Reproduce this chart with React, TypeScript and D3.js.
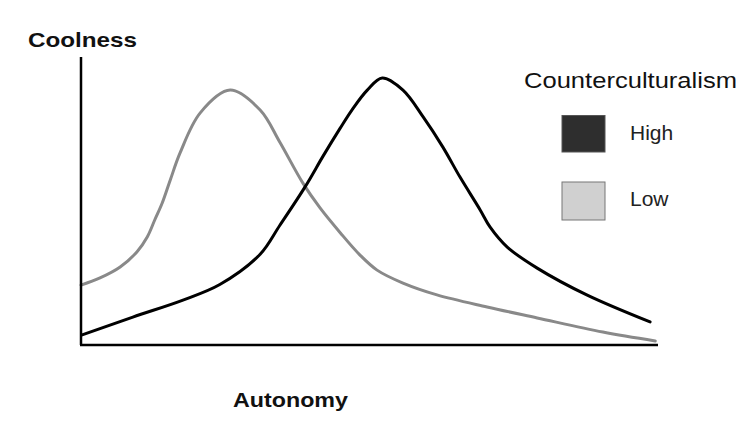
import React from "react";
import * as d3 from "d3";

const lowX = [0, 3.3, 6.8, 9.7, 11.5, 12.8, 14.1, 15.5, 17.2, 20.7, 25.9, 31.1, 34.5, 38.5, 41.5, 45.0, 48.4, 51.4, 55.9, 61.8, 70.5, 79.2, 90.6, 99.7];
const lowY = [20.8, 23.3, 27.1, 32.3, 37.5, 43.4, 49.3, 57.3, 66.7, 80.6, 88.5, 81.6, 70.5, 56.3, 47.6, 39.0, 31.3, 26.0, 21.5, 17.4, 13.2, 9.4, 4.5, 1.4];
const highX = [0.2, 9.0, 17.7, 24.1, 31.1, 34.5, 38.9, 42.0, 45.0, 47.0, 49.7, 52.3, 55.9, 59.4, 62.8, 65.8, 69.3, 71.0, 74.0, 79.2, 87.8, 98.8];
const highY = [3.5, 9.7, 15.6, 21.0, 31.5, 41.5, 54.9, 65.5, 75.3, 81.5, 88.5, 92.7, 88.5, 79.2, 68.8, 58.3, 46.9, 41.0, 34.0, 26.7, 17.4, 8.0];

const legendTitle = "Counterculturalism";
const legendLabels = ["High", "Low"];
const yLabel = "Coolness";
const xLabel = "Autonomy";

export default function App() {
  const W = 753, H = 434;
  const x = d3.scaleLinear().domain([0, 100]).range([81, 657]);
  const y = d3.scaleLinear().domain([0, 100]).range([345, 57]);
  const line = d3
    .line<[number, number]>()
    .x((d) => x(d[0]))
    .y((d) => y(d[1]))
    .curve(d3.curveCatmullRom.alpha(0.5));
  const lowPts = lowX.map((v, i) => [v, lowY[i]] as [number, number]);
  const highPts = highX.map((v, i) => [v, highY[i]] as [number, number]);
  const font = "Liberation Sans, Arial, sans-serif";
  return (
    <svg
      width={W}
      height={H}
      style={{ position: "absolute", left: 0, top: 0, background: "#fff" }}
    >
      <rect width={W} height={H} fill="#fff" />
      <path d={line(lowPts) || ""} fill="none" stroke="#898989" strokeWidth={3} strokeLinecap="round" />
      <path d={line(highPts) || ""} fill="none" stroke="#000" strokeWidth={3} strokeLinecap="round" />
      <line x1={x(0)} x2={x(0)} y1={y(0)} y2={y(100)} stroke="#000" strokeWidth={2.5} />
      <line x1={x(0) - 1} x2={x(100) + 1} y1={y(0)} y2={y(0)} stroke="#000" strokeWidth={2.5} />
      <text x={28} y={46.7} fontFamily={font} fontWeight="bold" fontSize={21} textLength={109} lengthAdjust="spacingAndGlyphs" fill="#111">
        {yLabel}
      </text>
      <text x={233} y={406.7} fontFamily={font} fontWeight="bold" fontSize={21} textLength={115} lengthAdjust="spacingAndGlyphs" fill="#111">
        {xLabel}
      </text>
      <text x={524} y={88.3} fontFamily={font} fontSize={22} textLength={213} lengthAdjust="spacingAndGlyphs" fill="#111">
        {legendTitle}
      </text>
      <rect x={562} y={115.5} width={43} height={36.5} fill="#2e2e2e" stroke="#555" strokeWidth={1} />
      <rect x={562} y={182} width={43} height={38} fill="#d0d0d0" stroke="#777" strokeWidth={1} />
      <text x={630} y={140} fontFamily={font} fontSize={21} fill="#222">
        {legendLabels[0]}
      </text>
      <text x={630} y={206} fontFamily={font} fontSize={21} fill="#222">
        {legendLabels[1]}
      </text>
    </svg>
  );
}
